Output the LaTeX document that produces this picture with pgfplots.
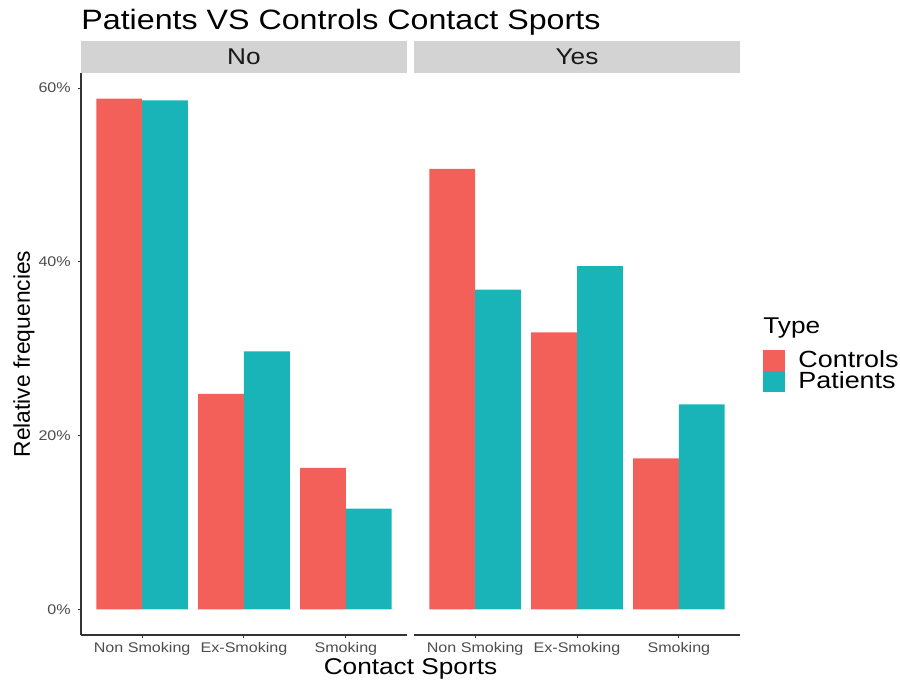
\documentclass[border=0pt]{standalone}
\usepackage{fontspec}
\setmainfont[FakeStretch=1.15]{Liberation Sans}
\newfontfamily\rotfont{Liberation Sans}
\usepackage{pgfplots}
\pgfplotsset{compat=1.18}

\definecolor{ctrl}{HTML}{F26059}
\definecolor{pat}{HTML}{19B4B8}
\definecolor{stripgray}{HTML}{D3D3D3}
\definecolor{axisgray}{HTML}{333333}
\definecolor{ticktext}{HTML}{4D4D4D}

\pgfplotsset{
  panel/.style={
    scale only axis, width=163pt, height=281pt,
    xmin=0.4, xmax=3.6, ymin=-2.94, ymax=61.74,
    clip=false,
    axis x line*=bottom,
    axis line style={-, draw=axisgray, line width=0.6pt},
    every outer x axis line/.append style={-},
    every outer y axis line/.append style={-},
    xtick={1,2,3},
    xticklabels={Non Smoking, Ex-Smoking, Smoking},
    tick align=outside, major tick length=1.6pt,
    tick style={draw=axisgray, line width=0.5pt},
    xtick pos=bottom,
    tick label style={font=\fontsize{7}{8}\selectfont, text=ticktext},
    xticklabel style={yshift=1.5pt},
    title style={at={(0.5,1)}, anchor=south, fill=stripgray, inner sep=0pt,
      minimum width=163pt, minimum height=16pt, text=black!90, yshift=-6pt,
      font=\fontsize{11.4}{12}\selectfont},
  },
  % key square plus the gap before its text
  bars/.style={ybar, bar width=0.45, draw=none, fill=#1,
    legend image code/.code={\fill[#1] (0pt,-5.25pt) rectangle (11pt,5.25pt);
      \path (17.5pt,0pt);}},
}

\begin{document}
\begin{tikzpicture}
\path[use as bounding box] (-40.5pt,-23.5pt) rectangle (409.5pt,317.5pt);

% panel "No"
\begin{axis}[panel, name=p1, title={No},
  axis y line*=left, ytick pos=left,
  ytick={0,20,40,60}, yticklabels={0\%,20\%,40\%,60\%},
]
\addplot[bars=ctrl, bar shift=-0.225] coordinates {(1,58.8) (2,24.8) (3,16.3)};
\addplot[bars=pat, bar shift=0.225] coordinates {(1,58.6) (2,29.7) (3,11.6)};
\node[anchor=base west, inner sep=0pt, font=\fontsize{14}{16}\selectfont]
  at ([yshift=21.5pt]rel axis cs:0,1) {Patients VS Controls Contact Sports};
\node[rotate=90, anchor=center, font=\rotfont\fontsize{11.4}{12}\selectfont]
  at ([xshift=-28.5pt]rel axis cs:0,0.5) {Relative frequencies};
\node[anchor=center, font=\fontsize{11.4}{12}\selectfont]
  at ([yshift=-17pt]rel axis cs:1.0107,0) {Contact Sports};
\end{axis}

% panel "Yes"
\begin{axis}[panel, name=p2, title={Yes}, at={(166.5pt,0pt)}, anchor=south west,
  axis y line=none, ytick=\empty,
  legend style={at={(1.0706,0.5071)}, anchor=north west, draw=none, fill=none,
    font=\fontsize{11.7}{12}\selectfont, inner sep=0pt, row sep=0pt,
    nodes={inner sep=0pt}},
  legend cell align=left,
]
\addplot[bars=ctrl, bar shift=-0.225] coordinates {(1,50.7) (2,31.9) (3,17.4)};
\addplot[bars=pat, bar shift=0.225] coordinates {(1,36.8) (2,39.5) (3,23.6)};
\legend{Controls, Patients}
\node[anchor=west, inner sep=0pt, font=\fontsize{11.4}{12}\selectfont]
  at (rel axis cs:1.0706,0.5463) {Type};
\end{axis}
\end{tikzpicture}
\end{document}
